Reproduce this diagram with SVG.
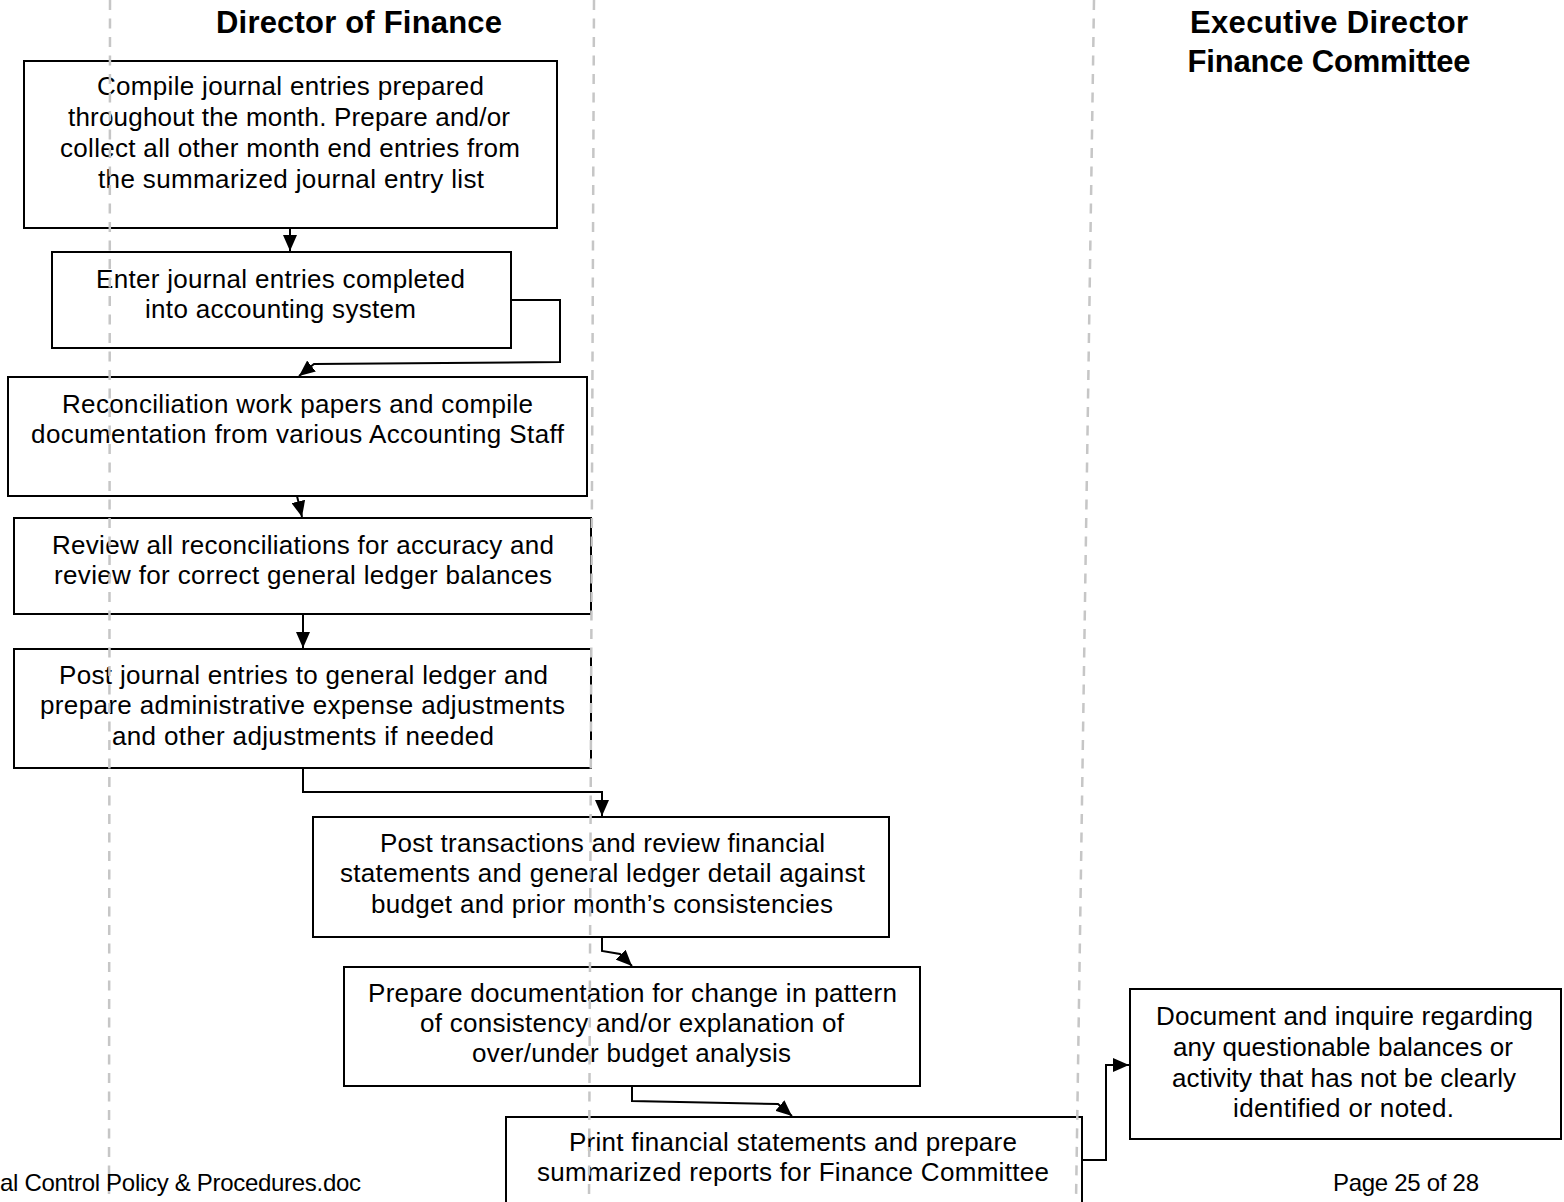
<svg xmlns="http://www.w3.org/2000/svg" width="1564" height="1202" viewBox="0 0 1564 1202">
<defs>
<marker id="ah" viewBox="0 0 16 14" refX="16" refY="7" markerWidth="16" markerHeight="14" markerUnits="userSpaceOnUse" orient="auto">
<path d="M0,0 L16,7 L0,14 z" fill="#000"/>
</marker>
<style>
.box{fill:#fff;stroke:#000;stroke-width:2}
.t{font-family:"Liberation Sans",Arial,sans-serif;font-size:26px;fill:#000;text-anchor:middle;dominant-baseline:central}
.h{font-family:"Liberation Sans",Arial,sans-serif;font-size:31px;font-weight:bold;fill:#000;text-anchor:middle;dominant-baseline:central}
.f{font-family:"Liberation Sans",Arial,sans-serif;font-size:24px;fill:#000;dominant-baseline:central}
.c{fill:none;stroke:#000;stroke-width:2;marker-end:url(#ah)}
.lane{stroke:#c6c6c6;stroke-width:2.5;stroke-dasharray:10 8.5}
</style>
</defs>
<rect width="1564" height="1202" fill="#fff"/>
<g id="headers">
<text class="h" x="359" y="22.5" textLength="286">Director of Finance</text>
<text class="h" x="1329" y="22.5" textLength="278">Executive Director</text>
<text class="h" x="1329" y="61" textLength="283">Finance Committee</text>
</g>
<g id="n1"><rect class="box" x="24" y="61" width="533" height="167"/>
<text class="t" x="290.5" y="86.2" textLength="387">Compile journal entries prepared</text>
<text class="t" x="289" y="116.5" textLength="442">throughout the month. Prepare and/or</text>
<text class="t" x="290" y="147.5" textLength="460">collect all other month end entries from</text>
<text class="t" x="291" y="178.5" textLength="386">the summarized journal entry list</text></g>
<g id="n2"><rect class="box" x="52" y="252" width="459" height="96"/>
<text class="t" x="280.5" y="278.5" textLength="369">Enter journal entries completed</text>
<text class="t" x="280.5" y="308.5" textLength="271">into accounting system</text></g>
<g id="n3"><rect class="box" x="8" y="377" width="579" height="119"/>
<text class="t" x="297.5" y="403.5" textLength="471">Reconciliation work papers and compile</text>
<text class="t" x="297.5" y="433.5" textLength="533">documentation from various Accounting Staff</text></g>
<g id="n4"><rect class="box" x="14" y="518" width="577" height="96"/>
<text class="t" x="303" y="544.5" textLength="502">Review all reconciliations for accuracy and</text>
<text class="t" x="303" y="574.5" textLength="498">review for correct general ledger balances</text></g>
<g id="n5"><rect class="box" x="14" y="649" width="577" height="119"/>
<text class="t" x="303.5" y="674.5" textLength="489">Post journal entries to general ledger and</text>
<text class="t" x="302.5" y="704.5" textLength="525">prepare administrative expense adjustments</text>
<text class="t" x="303" y="735.5" textLength="382">and other adjustments if needed</text></g>
<g id="n6"><rect class="box" x="313" y="817" width="576" height="120"/>
<text class="t" x="602.5" y="842.5" textLength="445">Post transactions and review financial</text>
<text class="t" x="602.5" y="872.5" textLength="525">statements and general ledger detail against</text>
<text class="t" x="602" y="903.5" textLength="462">budget and prior month’s consistencies</text></g>
<g id="n7"><rect class="box" x="344" y="967" width="576" height="119"/>
<text class="t" x="632.5" y="992.5" textLength="529">Prepare documentation for change in pattern</text>
<text class="t" x="632" y="1022.5" textLength="424">of consistency and/or explanation of</text>
<text class="t" x="631.5" y="1052.5" textLength="319">over/under budget analysis</text></g>
<g id="n8"><rect class="box" x="506" y="1117" width="576" height="100"/>
<text class="t" x="793" y="1141.5" textLength="448">Print financial statements and prepare</text>
<text class="t" x="793" y="1171.5" textLength="512">summarized reports for Finance Committee</text></g>
<g id="n9"><rect class="box" x="1130" y="989" width="431" height="150"/>
<text class="t" x="1344.5" y="1015.5" textLength="377">Document and inquire regarding</text>
<text class="t" x="1343" y="1046.5" textLength="340">any questionable balances or</text>
<text class="t" x="1344" y="1077.5" textLength="344">activity that has not be clearly</text>
<text class="t" x="1343.5" y="1107.5" textLength="221">identified or noted.</text></g>
<g id="connectors">
<path class="c" d="M290,228 V251"/>
<path class="c" d="M511,300 H560 V362 L314,364 L299,376"/>
<path class="c" d="M297,496 L302,517"/>
<path class="c" d="M303,614 V648"/>
<path class="c" d="M303,768 V792 H602 V816"/>
<path class="c" d="M602,937 V951 L620,954 L632,966"/>
<path class="c" d="M632,1086 V1101 L778,1104 L792,1116"/>
<path class="c" d="M1082,1160 H1106 V1065 H1129"/>
</g>
<g id="lanes">
<line class="lane" x1="110" y1="0" x2="109" y2="1202"/>
<line class="lane" x1="594" y1="0" x2="589" y2="1202"/>
<line class="lane" x1="1094" y1="0" x2="1076" y2="1202"/>
</g>
<g id="footer">
<text class="f" x="0" y="1182" textLength="361">al Control Policy &amp; Procedures.doc</text>
<text class="f" x="1406" y="1182" text-anchor="middle" textLength="146">Page 25 of 28</text>
</g>
</svg>
